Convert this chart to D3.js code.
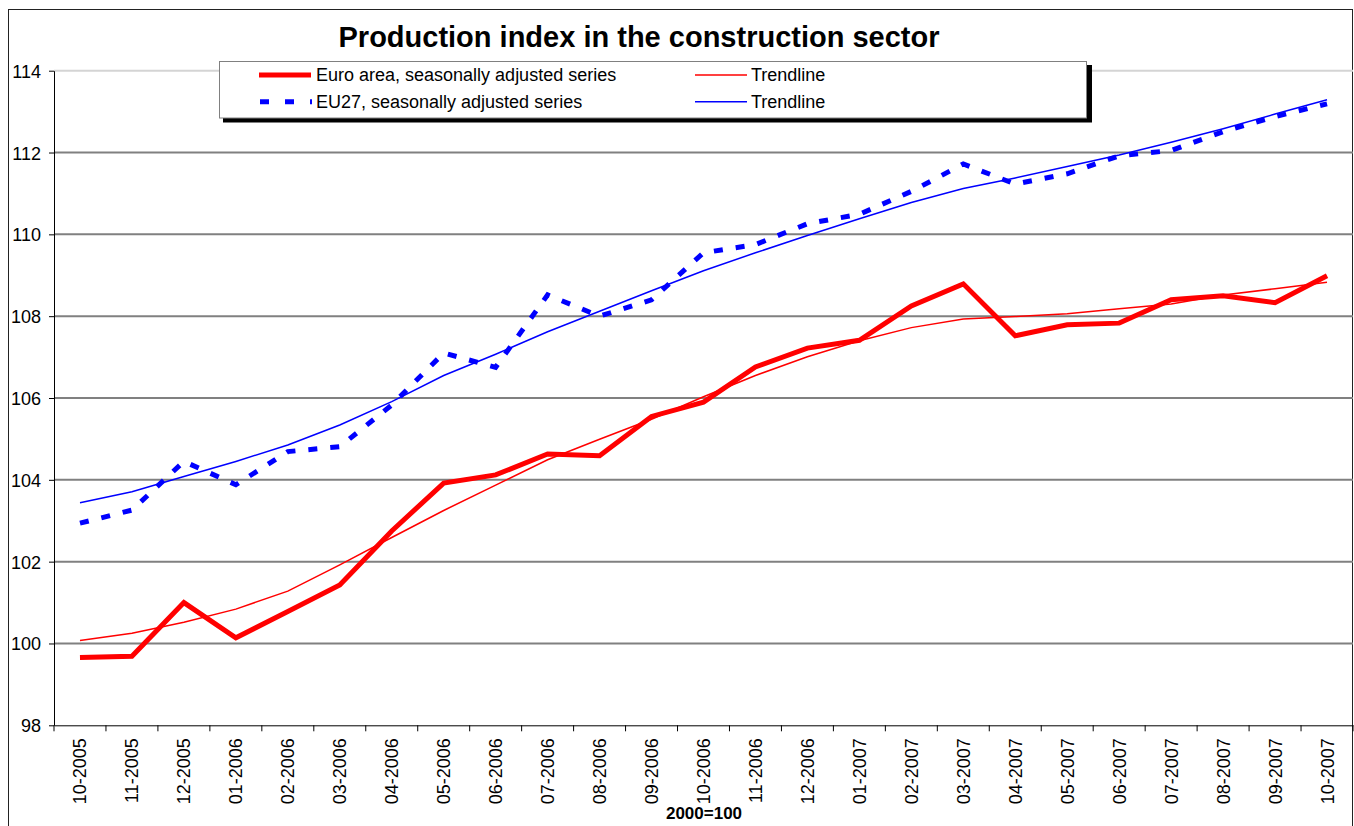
<html>
<head>
<meta charset="utf-8">
<title>Production index in the construction sector</title>
<style type="text/css">
  body { margin: 0; background: #fff; }
  text { font-family: Arial, "Liberation Sans", sans-serif; }
</style>
<script src="https://d3js.org/d3.v7.min.js"></script>
</head>
<body>
<svg width="1354" height="826"></svg>
<script>
var months = ["10-2005","11-2005","12-2005","01-2006","02-2006","03-2006","04-2006","05-2006","06-2006",
              "07-2006","08-2006","09-2006","10-2006","11-2006","12-2006","01-2007","02-2007","03-2007",
              "04-2007","05-2007","06-2007","07-2007","08-2007","09-2007","10-2007"];
var euroArea  = [99.66, 99.69, 101.00, 100.14, 100.78, 101.43, 102.75, 103.92, 104.12, 104.63, 104.59, 105.55,
                 105.90, 106.76, 107.22, 107.41, 108.25, 108.79, 107.52, 107.79, 107.83, 108.40, 108.50, 108.33, 108.99];
var euroTrend = [100.07, 100.25, 100.52, 100.84, 101.28, 101.92, 102.59, 103.25, 103.87, 104.49, 104.99, 105.48,
                 106.03, 106.55, 107.01, 107.40, 107.72, 107.93, 107.99, 108.06, 108.18, 108.30, 108.52, 108.67, 108.83];
var eu27      = [102.94, 103.26, 104.45, 103.88, 104.69, 104.81, 105.83, 107.10, 106.75, 108.52, 108.00, 108.40,
                 109.55, 109.75, 110.26, 110.49, 111.05, 111.72, 111.23, 111.48, 111.92, 112.05, 112.51, 112.88, 113.19];
var eu27Trend = [103.44, 103.71, 104.08, 104.45, 104.85, 105.34, 105.91, 106.55, 107.07, 107.62, 108.12, 108.62,
                 109.11, 109.55, 109.97, 110.38, 110.78, 111.12, 111.38, 111.66, 111.94, 112.25, 112.58, 112.94, 113.29];
var yTicks = [98, 100, 102, 104, 106, 108, 110, 112, 114];

var svg = d3.select("svg");
var plotLeft = 54, plotRight = 1353, plotTop = 70.7, plotBottom = 725.3;

var x = d3.scaleBand().domain(months).range([plotLeft, plotRight]).padding(0);
var y = d3.scaleLinear().domain([98, 114]).range([plotBottom, plotTop]);
var cx = function(i){ return x(months[i]) + x.bandwidth()/2; };

// outer chart border
svg.append("rect")
  .attr("x", 8.5).attr("y", 9.5)
  .attr("width", 1344).attr("height", 830)
  .attr("fill", "none").attr("stroke", "#222").attr("stroke-width", 1);

// title
svg.append("text")
  .attr("x", 639).attr("y", 47)
  .attr("text-anchor", "middle")
  .style("font-size", "29px").style("font-weight", "bold")
  .text("Production index in the construction sector");

// gridlines
svg.append("g").selectAll("line")
  .data(yTicks.filter(function(d){ return d > 98; }))
  .enter().append("line")
  .attr("x1", plotLeft).attr("x2", plotRight)
  .attr("y1", function(d){ return y(d); }).attr("y2", function(d){ return y(d); })
  .attr("stroke", function(d){ return d === 114 ? "#d4d4d4" : "#808080"; })
  .attr("stroke-width", 2);

// y axis
var yAxis = svg.append("g")
  .attr("transform", "translate(" + plotLeft + ",0)")
  .call(d3.axisLeft(y).tickValues(yTicks).tickSize(5).tickSizeOuter(0).tickFormat(d3.format("d")));
yAxis.select(".domain").attr("stroke", "#000");
yAxis.selectAll(".tick line").attr("stroke", "#000");
yAxis.selectAll(".tick text")
  .attr("x", -13).attr("dy", "0.36em")
  .style("font-size", "18px").style("font-family", "Arial, 'Liberation Sans', sans-serif").attr("fill", "#000");

// x axis: labels at category centres, tick marks at category boundaries
var xAxis = svg.append("g")
  .attr("transform", "translate(0," + plotBottom + ")")
  .call(d3.axisBottom(x).tickSize(0).tickSizeOuter(0));
xAxis.select(".domain").attr("stroke", "#000");
xAxis.selectAll(".tick text")
  .attr("transform", "rotate(-90)")
  .attr("text-anchor", "end")
  .attr("x", -13).attr("y", 0).attr("dy", "0.36em")
  .style("font-size", "18px").style("font-family", "Arial, 'Liberation Sans', sans-serif").attr("fill", "#000");
xAxis.selectAll(".boundary")
  .data(months.map(function(m){ return x(m); }).concat([plotRight]))
  .enter().append("line")
  .attr("class", "boundary")
  .attr("x1", function(d){ return d; }).attr("x2", function(d){ return d; })
  .attr("y1", 0).attr("y2", 6)
  .attr("stroke", "#000");

svg.append("text")
  .attr("x", 704).attr("y", 819)
  .attr("text-anchor", "middle")
  .style("font-size", "17px").style("font-weight", "bold")
  .text("2000=100");

// series
var line = d3.line().x(function(d, i){ return cx(i); }).y(function(d){ return y(d); });

svg.append("path").attr("d", line(euroTrend))
  .attr("fill", "none").attr("stroke", "#ff0000").attr("stroke-width", 1.5);
svg.append("path").attr("d", line(eu27Trend))
  .attr("fill", "none").attr("stroke", "#0000ff").attr("stroke-width", 1.5);
svg.append("path").attr("d", line(euroArea))
  .attr("fill", "none").attr("stroke", "#ff0000").attr("stroke-width", 5)
  .attr("stroke-linejoin", "miter");
svg.append("path").attr("d", line(eu27))
  .attr("fill", "none").attr("stroke", "#0000ff").attr("stroke-width", 5)
  .attr("stroke-dasharray", "9,13");

// legend
var lg = svg.append("g");
lg.append("rect").attr("x", 223).attr("y", 65).attr("width", 869).attr("height", 57.5).attr("fill", "#000");
lg.append("rect").attr("x", 219.5).attr("y", 61.5).attr("width", 867).attr("height", 56.5)
  .attr("fill", "#fff").attr("stroke", "#808080").attr("stroke-width", 1);

var legendItems = [
  {label: "Euro area, seasonally adjusted series", color: "#ff0000", width: 5, dash: null, lx: 259, tx: 316, row: 0},
  {label: "Trendline", color: "#ff0000", width: 1.5, dash: null, lx: 695, tx: 751, row: 0},
  {label: "EU27, seasonally adjusted series", color: "#0000ff", width: 5, dash: "9,16", lx: 260, tx: 316, row: 1},
  {label: "Trendline", color: "#0000ff", width: 1.5, dash: null, lx: 695, tx: 751, row: 1}
];
var rowLine = [75, 101.7], rowText = [80.5, 107.5];
var item = lg.selectAll(".item").data(legendItems).enter().append("g").attr("class", "item");
item.append("line")
  .attr("x1", function(d){ return d.lx; }).attr("x2", function(d){ return d.lx + 52; })
  .attr("y1", function(d){ return rowLine[d.row]; }).attr("y2", function(d){ return rowLine[d.row]; })
  .attr("stroke", function(d){ return d.color; })
  .attr("stroke-width", function(d){ return d.width; })
  .attr("stroke-dasharray", function(d){ return d.dash; });
item.append("text")
  .attr("x", function(d){ return d.tx; }).attr("y", function(d){ return rowText[d.row]; })
  .style("font-size", "18px")
  .text(function(d){ return d.label; });
</script>
</body>
</html>
